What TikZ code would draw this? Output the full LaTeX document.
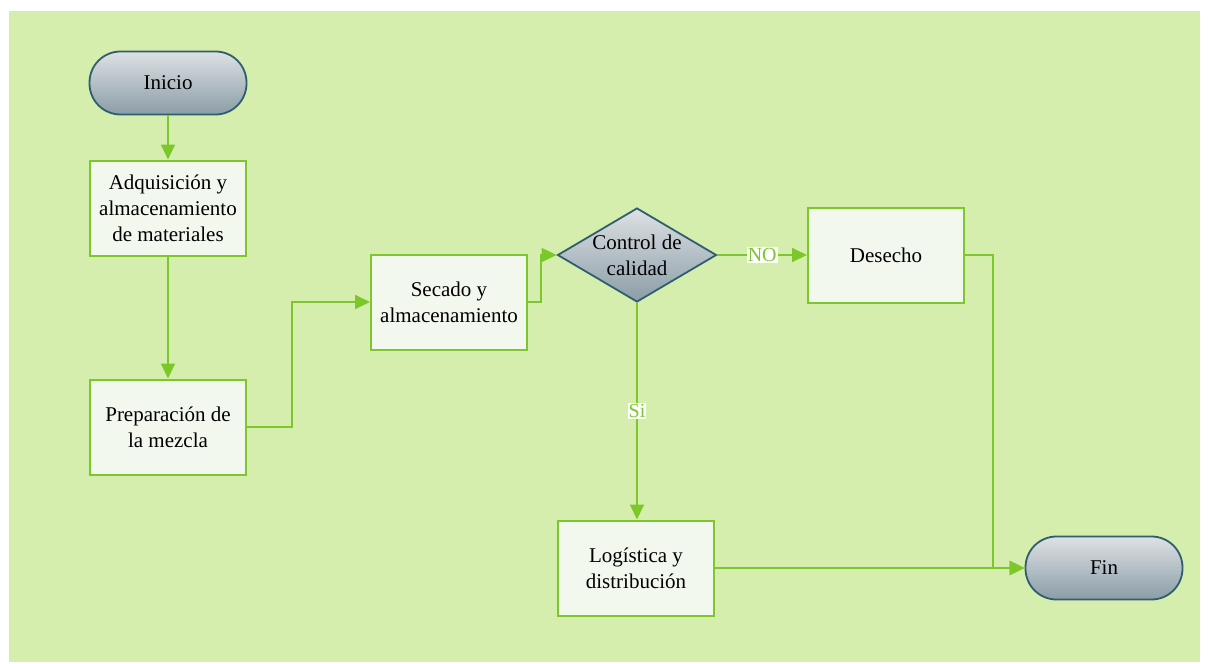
\documentclass[tikz,border=0pt]{standalone}
\usepackage{fontspec}
\setmainfont{Liberation Serif}
\usetikzlibrary{shapes.geometric,arrows.meta}
\definecolor{bg}{HTML}{D5EEAD}
\definecolor{ln}{HTML}{7CC82A}
\definecolor{bx}{HTML}{F3F8EE}
\definecolor{bd}{HTML}{2F5E6E}
\definecolor{gtop}{HTML}{DDE1E4}
\definecolor{gbot}{HTML}{8B9DA7}
\begin{document}
\begin{tikzpicture}[x=1pt,y=-1pt,
  every node/.style={font=\fontsize{21}{26}\selectfont},
  term/.style={rectangle,rounded corners=31pt,draw=bd,line width=1.8pt,top color=gtop,bottom color=gbot,minimum width=157pt,minimum height=63pt,inner sep=0pt},
  boxn/.style={rectangle,draw=ln,line width=2pt,fill=bx,minimum width=156pt,minimum height=95pt,align=center,inner sep=0pt},
  dia/.style={diamond,draw=bd,line width=1.8pt,top color=gtop,bottom color=gbot,minimum width=159pt,minimum height=94pt,inner sep=0pt},
  arr/.style={draw=ln,line width=1.8pt,-{Triangle[length=15pt,width=14pt]}},
  lab/.style={fill=white,text=ln,inner sep=1pt,font=\fontsize{20}{24}\selectfont}]
\useasboundingbox (0,0) rectangle (1208,664);
\fill[white] (0,0) rectangle (1208,664);
\fill[bg] (9,11) rectangle (1200,662);
\node[term] (ini) at (168,83) {Inicio};
\node[boxn] (adq) at (168,208) {Adquisición y\\almacenamiento\\de materiales};
\node[boxn] (prep) at (168,427) {Preparación de\\la mezcla};
\node[boxn] (sec) at (449,302) {Secado y\\almacenamiento};
\node[dia,label={[align=center,font=\fontsize{21}{26}\selectfont]center:Control de\\calidad}] (d) at (637,255) {};
\node[boxn] (des) at (886,255) {Desecho};
\node[boxn] (log) at (636,568) {Logística y\\distribución};
\node[term] (fin) at (1104,568) {Fin};
\draw[arr] (ini) -- (adq);
\draw[arr] (adq) -- (prep);
\draw[arr] (prep.east) -- ++(45,0) |- (sec.west);
\draw[arr] (sec.east) -- ++(13,0) |- (d.west);
\draw[arr] (d.east) -- node[lab]{NO} (des.west);
\draw[arr] (d.south) -- node[lab]{Si} (d.south |- log.north);
\draw[arr] (des.east) -- ++(28,0) |- (fin.west);
\draw[arr] (log.east) -- (fin.west);
\end{tikzpicture}
\end{document}
